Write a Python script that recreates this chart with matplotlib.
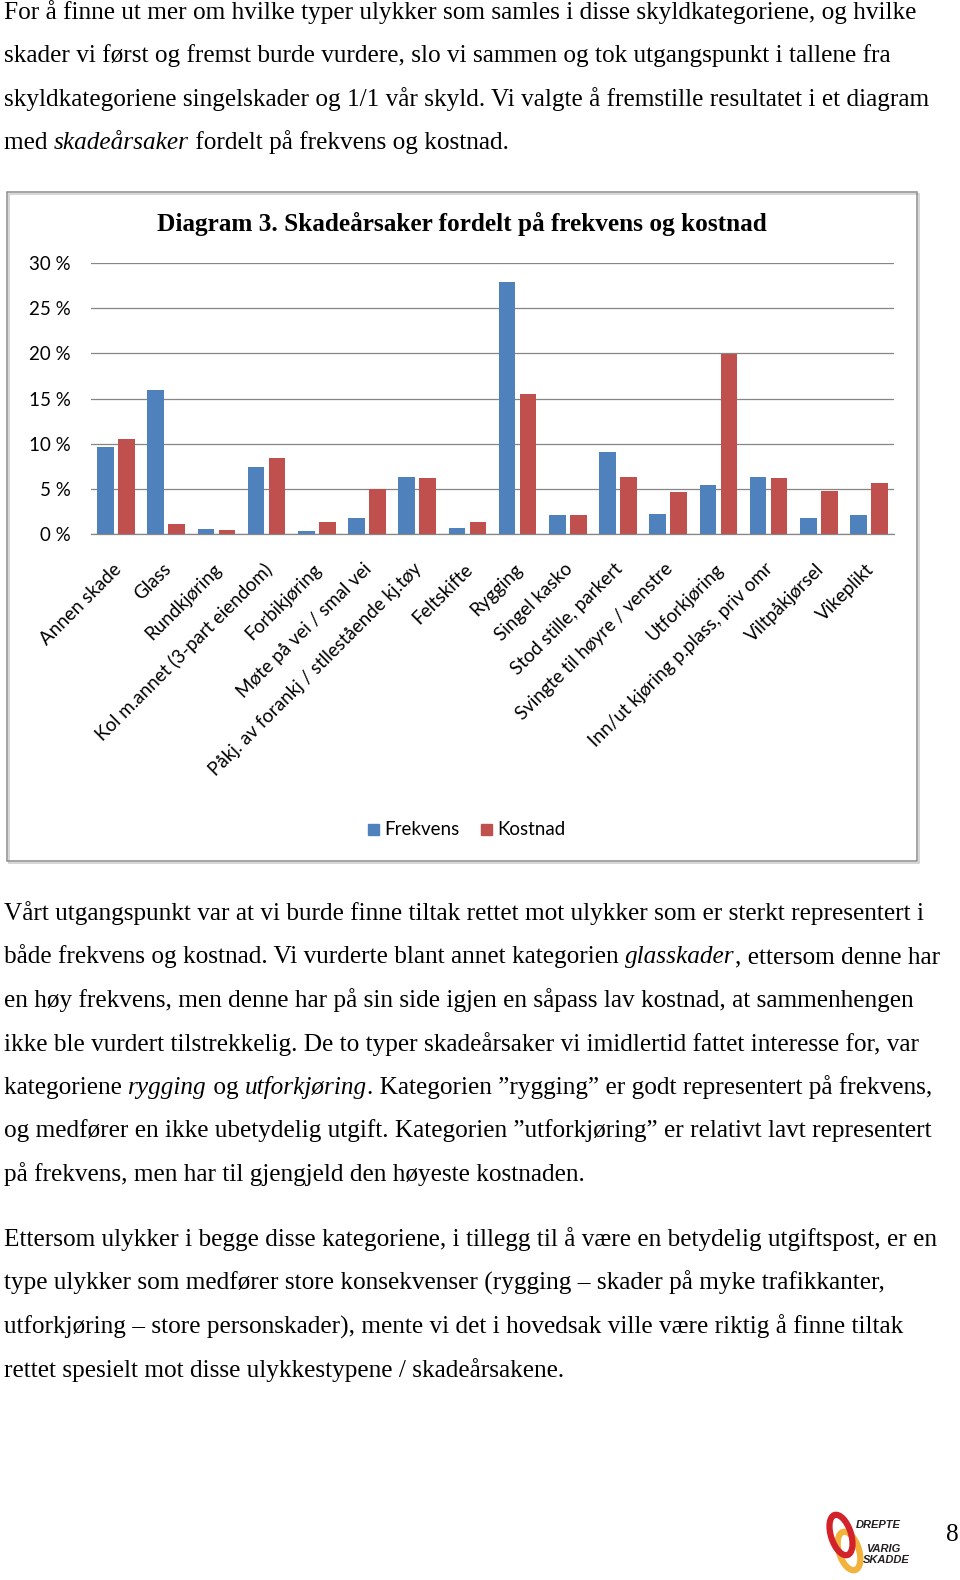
import matplotlib
matplotlib.use("Agg")
import matplotlib.pyplot as plt
from matplotlib.patches import Rectangle, Ellipse
from matplotlib.transforms import ScaledTranslation
import numpy as np

# ---------------- data ----------------
categories = [
    "Annen skade", "Glass", "Rundkjøring", "Kol m.annet (3-part eiendom)",
    "Forbikjøring", "Møte på vei / smal vei", "Påkj. av forankj / stllestående kj.tøy",
    "Feltskifte", "Rygging", "Singel kasko", "Stod stille, parkert",
    "Svingte til høyre / venstre", "Utforkjøring", "Inn/ut kjøring p.plass, priv omr",
    "Viltpåkjørsel", "Vikeplikt",
]
frekvens = [9.6, 16.0, 0.55, 7.4, 0.35, 1.75, 6.3, 0.7, 27.9, 2.15, 9.05, 2.3, 5.5, 6.3, 1.75, 2.15]
kostnad = [10.5, 1.1, 0.5, 8.4, 1.35, 5.0, 6.25, 1.4, 15.5, 2.1, 6.3, 4.7, 19.9, 6.25, 4.75, 5.7]
y_ticks = [0, 5, 10, 15, 20, 25, 30]
y_tick_labels = [f"{v} %" for v in y_ticks]
series_names = ["Frekvens", "Kostnad"]
chart_title = "Diagram 3. Skadeårsaker fordelt på frekvens og kostnad"

para1 = [
    [("For å finne ut mer om hvilke typer ulykker som samles i disse skyldkategoriene, og hvilke", "normal")],
    [("skader vi først og fremst burde vurdere, slo vi sammen og tok utgangspunkt i tallene fra", "normal")],
    [("skyldkategoriene singelskader og 1/1 vår skyld. Vi valgte å fremstille resultatet i et diagram", "normal")],
    [("med ", "normal"), ("skadeårsaker", "italic"), (" fordelt på frekvens og kostnad.", "normal")],
]
para2 = [
    [("Vårt utgangspunkt var at vi burde finne tiltak rettet mot ulykker som er sterkt representert i", "normal")],
    [("både frekvens og kostnad. Vi vurderte blant annet kategorien ", "normal"), ("glasskader", "italic"),
     (", ettersom denne har", "normal")],
    [("en høy frekvens, men denne har på sin side igjen en såpass lav kostnad, at sammenhengen", "normal")],
    [("ikke ble vurdert tilstrekkelig. De to typer skadeårsaker vi imidlertid fattet interesse for, var", "normal")],
    [("kategoriene ", "normal"), ("rygging", "italic"), (" og ", "normal"), ("utforkjøring", "italic"),
     (". Kategorien ”rygging” er godt representert på frekvens,", "normal")],
    [("og medfører en ikke ubetydelig utgift. Kategorien ”utforkjøring” er relativt lavt representert", "normal")],
    [("på frekvens, men har til gjengjeld den høyeste kostnaden.", "normal")],
]
para3 = [
    [("Ettersom ulykker i begge disse kategoriene, i tillegg til å være en betydelig utgiftspost, er en", "normal")],
    [("type ulykker som medfører store konsekvenser (rygging – skader på myke trafikkanter,", "normal")],
    [("utforkjøring – store personskader), mente vi det i hovedsak ville være riktig å finne tiltak", "normal")],
    [("rettet spesielt mot disse ulykkestypene / skadeårsakene.", "normal")],
]
page_number = "8"
logo_words = ["DREPTE", "VARIG", "SKADDE"]

# ---------------- style ----------------
BLUE = "#4F81BD"
RED = "#C0504D"
GRID = "#868686"
SANS = "Lato"
SERIF = "Liberation Serif"
BODY_FS = 18.2
CH_FS = 13.5

W, H = 960, 1580
fig = plt.figure(figsize=(W / 100, H / 100), dpi=100)
page = fig.add_axes([0, 0, 1, 1])
page.set_xlim(0, W)
page.set_ylim(H, 0)
page.axis("off")

# chart frame
page.add_patch(Rectangle((8.5, 193.5), 910, 669, fill=False, edgecolor="#d0d0d0", lw=1.2, zorder=1))
page.add_patch(Rectangle((7, 192), 910, 669, fill=False, edgecolor="#8c8c8c", lw=1.1, zorder=2))

# chart axes
x0, x1, y0, y30 = 91, 894, 534.3, 263
ax = fig.add_axes([x0 / W, 1 - y0 / H, (x1 - x0) / W, (y0 - y30) / H])
ax.patch.set_alpha(0)
x = np.arange(len(categories))
bw = 0.332
ax.bar(x - 0.209, frekvens, bw, color=BLUE, zorder=2)
ax.bar(x + 0.209, kostnad, bw, color=RED, zorder=2)
ax.set_xlim(-0.5, len(categories) - 0.5)
ax.set_ylim(0, 30)
ax.set_yticks(y_ticks)
ax.set_yticklabels(y_tick_labels, fontfamily=SANS, fontsize=CH_FS)
ax.tick_params(axis="y", length=0, pad=14.4)
ax.set_xticks([])
ax.grid(axis="y", color=GRID, lw=0.9, zorder=0)
ax.set_axisbelow(True)
for s in ["top", "right", "left"]:
    ax.spines[s].set_visible(False)
ax.spines["bottom"].set_color(GRID)
ax.spines["bottom"].set_linewidth(0.9)
ax.spines["bottom"].set_zorder(3)

off = ScaledTranslation(-0.04, -0.26, fig.dpi_scale_trans)
for i, c in enumerate(categories):
    ax.text(i, 0, c, rotation=45, ha="right", va="top", rotation_mode="anchor",
            fontfamily=SANS, fontsize=CH_FS, transform=ax.transData + off)

# title
page.text(462, 230.7, chart_title, ha="center", va="baseline", fontfamily=SERIF,
          fontweight="bold", fontsize=18.2)

# legend
page.add_patch(Rectangle((367.5, 823.5), 11, 11, color=BLUE))
page.text(384, 829.5, series_names[0], ha="left", va="center", fontfamily=SANS, fontsize=CH_FS)
page.add_patch(Rectangle((480.5, 823.5), 11, 11, color=RED))
page.text(497, 829.5, series_names[1], ha="left", va="center", fontfamily=SANS, fontsize=CH_FS)

# body text
renderer = fig.canvas.get_renderer()


def _w(s, style):
    t = page.text(0, 0, s, fontfamily=SERIF, fontsize=BODY_FS, style=style)
    w = t.get_window_extent(renderer).width
    t.remove()
    return w


def seg_advance(t, style):
    return _w("x" + t + "x", style) - _w("xx", style)


def draw_line(segs, baseline, xstart=4):
    xx = xstart
    for t, st in segs:
        page.text(xx, baseline, t, ha="left", va="baseline", fontfamily=SERIF,
                  fontsize=BODY_FS, style=st, color="black")
        xx += seg_advance(t, st)


for k, segs in enumerate(para1):
    draw_line(segs, 19 + 43.4 * k)
for k, segs in enumerate(para2):
    draw_line(segs, 920 + 43.5 * k)
for k, segs in enumerate(para3):
    draw_line(segs, 1246 + 43.6 * k)

# page number
page.text(946, 1541, page_number, ha="left", va="baseline", fontfamily=SERIF, fontsize=BODY_FS)

# logo
page.add_patch(Ellipse((849, 1551), 20, 40, angle=-18, fill=False, edgecolor="#F2B33D", lw=4.5, zorder=3))
page.add_patch(Ellipse((841, 1535), 20, 42, angle=-18, fill=False, edgecolor="#D2232A", lw=4.5, zorder=4))
page.text(856, 1528, logo_words[0], ha="left", va="baseline", fontfamily="Liberation Sans",
          fontweight="bold", style="italic", fontsize=8, color="#231F20", zorder=5)
page.text(866, 1552, logo_words[1], ha="left", va="baseline", fontfamily="Liberation Sans",
          fontweight="bold", style="italic", fontsize=8, color="#231F20", zorder=5)
page.text(863, 1563, logo_words[2], ha="left", va="baseline", fontfamily="Liberation Sans",
          fontweight="bold", style="italic", fontsize=8, color="#231F20", zorder=5)

fig.savefig("out.png", dpi=100, facecolor="white")
